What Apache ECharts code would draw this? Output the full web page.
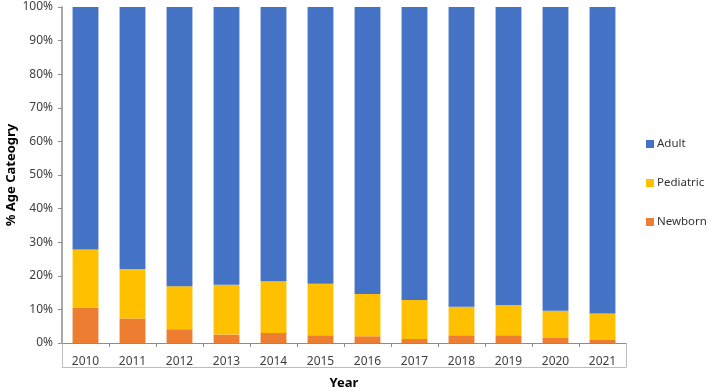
<!DOCTYPE html>
<html>
<head>
<meta charset="utf-8">
<script src="https://cdn.jsdelivr.net/npm/echarts@6/dist/echarts.min.js"></script>
<style>
  html, body { margin: 0; padding: 0; background: #fff; }
  #chart { width: 708px; height: 388px; }
</style>
</head>
<body>
<div id="chart"></div>
<script>
var years = ['2010', '2011', '2012', '2013', '2014', '2015', '2016', '2017', '2018', '2019', '2020', '2021'];
var newborn = [10.5, 7.3, 4.1, 2.5, 3.0, 2.3, 2.0, 1.2, 2.3, 2.3, 1.5, 0.9];
var pediatric = [17.3, 14.7, 12.8, 14.8, 15.4, 15.3, 12.6, 11.6, 8.5, 8.9, 8.1, 7.9];
var adult = [72.2, 78.0, 83.1, 82.7, 81.6, 82.4, 85.4, 87.2, 89.2, 88.8, 90.4, 91.2];

var font = 'Noto Sans';
var myChart = echarts.init(document.getElementById('chart'));
var option = {
    animation: false,
    textStyle: { fontFamily: font },
    legend: {
        orient: 'vertical',
        left: 646,
        top: 138,
        padding: 0,
        itemWidth: 8,
        itemHeight: 8,
        itemGap: 27,
        icon: 'rect',
        textStyle: { fontSize: 11.5, color: '#333', fontFamily: font, padding: [0, 0, 0, -2] },
        data: ['Adult', 'Pediatric', 'Newborn']
    },
    grid: { left: 62, right: 82, top: 7, bottom: 45, outerBoundsMode: 'none', containLabel: false },
    xAxis: [{
        type: 'category',
        data: years,
        name: 'Year',
        nameLocation: 'middle',
        nameGap: 34,
        nameMoveOverlap: false,
        nameTextStyle: { fontWeight: 'bold', fontSize: 13, color: '#000', fontFamily: font },
        axisLine: { lineStyle: { color: '#8c8c8c', width: 1 } },
        axisTick: { show: true, length: 4, lineStyle: { color: '#8c8c8c' } },
        axisLabel: { fontSize: 12, color: '#404040', margin: 13 }
    }, {
        type: 'category',
        data: years,
        position: 'bottom',
        offset: 24,
        axisLine: { lineStyle: { color: '#9dc3e6', width: 1 } },
        axisTick: {
            show: true, inside: true, length: 24,
            interval: function (i) { return i === 0; },
            lineStyle: { color: '#bfbfbf' }
        },
        axisLabel: { show: false }
    }],
    yAxis: {
        type: 'value',
        min: 0,
        max: 100,
        interval: 10,
        name: '% Age Cateogry',
        nameLocation: 'middle',
        nameGap: 44,
        nameMoveOverlap: false,
        nameTextStyle: { fontWeight: 'bold', fontSize: 13, color: '#000', fontFamily: font },
        axisLine: { show: true, lineStyle: { color: '#8c8c8c', width: 1.5 } },
        axisTick: { show: true, length: 4, lineStyle: { color: '#8c8c8c' } },
        splitLine: { show: false },
        axisLabel: { fontSize: 12, color: '#404040', margin: 9, formatter: '{value}%' }
    },
    series: [
        { name: 'Newborn', type: 'bar', stack: 'all', data: newborn, barCategoryGap: '45%', itemStyle: { color: '#ED7D31' } },
        { name: 'Pediatric', type: 'bar', stack: 'all', data: pediatric, itemStyle: { color: '#FFC000' } },
        { name: 'Adult', type: 'bar', stack: 'all', data: adult, itemStyle: { color: '#4472C4' } }
    ]
};
myChart.setOption(option);
</script>
</body>
</html>
